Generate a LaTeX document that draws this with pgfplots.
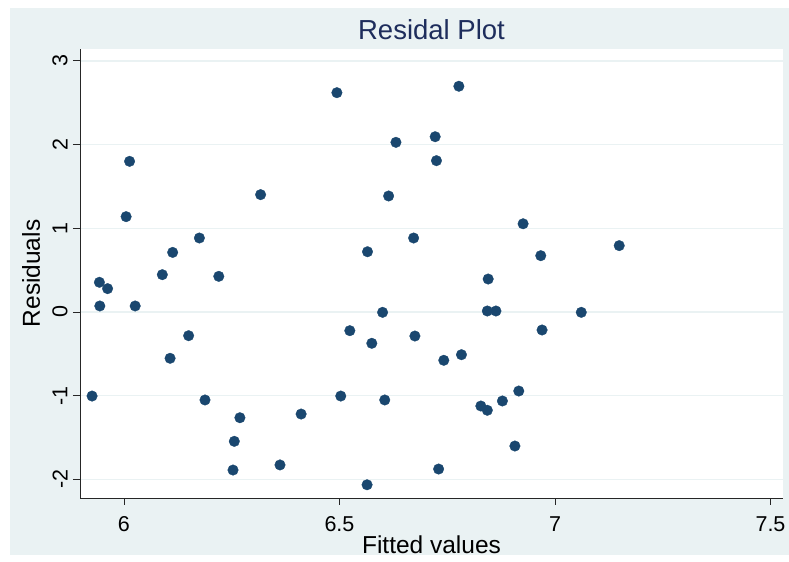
\documentclass[border=0pt]{standalone}
\usepackage{fontspec}
\setmainfont{Liberation Sans}
\usepackage{pgfplots}
\pgfplotsset{compat=1.18}
\definecolor{stbg}{HTML}{EAF2F3}
\definecolor{stnavy}{HTML}{1A476F}
\definecolor{sttitle}{HTML}{1E2D5C}

\begin{document}
\begin{tikzpicture}
\useasboundingbox (0bp,0bp) rectangle (789bp,562bp);
\fill[stbg] (10bp,7bp) rectangle (789bp,554bp);
\begin{axis}[
  at={(80bp,64bp)}, anchor=south west,
  width=703bp, height=449bp, scale only axis,
  xmin=5.898, xmax=7.529, ymin=-2.222, ymax=3.142,
  axis background/.style={fill=white},
  axis x line*=bottom, axis y line*=left,
  axis line style={-, line width=0.8bp, black!85},
  xtick={6,6.5,7,7.5}, ytick={-2,-1,0,1,2,3},
  tick align=outside, major tick length=7bp,
  tick style={line width=0.8bp, black!85},
  ymajorgrids, grid style={stbg, line width=1.5bp},
  /pgf/number format/assume math mode=true,
  tick label style={font=\fontsize{21.5bp}{24bp}\selectfont, text=black},
  xticklabel style={anchor=center, yshift=-19bp},
  yticklabel style={xshift=-13bp, rotate=90, anchor=center},
  title={Residal Plot},
  every axis title/.style={at={(axis description cs:0.5,1.0423)}, anchor=center, font=\fontsize{27.5bp}{30bp}\selectfont, text=sttitle},
  xlabel={Fitted values},
  every axis x label/.style={at={(axis description cs:0.5,-0.1047)}, anchor=center, font=\fontsize{24.5bp}{27bp}\selectfont},
  ylabel={Residuals},
  every axis y label/.style={at={(axis description cs:-0.0697,0.5)}, rotate=90, anchor=center, font=\fontsize{24.5bp}{27bp}\selectfont},
]
\addplot[only marks, mark=*, mark size=5.3bp, mark options={fill=stnavy, draw=stnavy, line width=0.3bp}] coordinates {
(5.926,-1.004) (5.943,0.355) (5.944,0.072) (5.962,0.279) (6.005,1.139)
(6.013,1.800) (6.026,0.072) (6.089,0.446) (6.107,-0.553) (6.113,0.712)
(6.150,-0.283) (6.175,0.884) (6.188,-1.051) (6.220,0.426) (6.253,-1.888)
(6.256,-1.545) (6.269,-1.263) (6.317,1.402) (6.362,-1.827) (6.411,-1.219)
(6.494,2.620) (6.503,-1.004) (6.524,-0.223) (6.565,0.720) (6.575,-0.374)
(6.600,-0.004) (6.605,-1.051) (6.564,-2.064) (6.614,1.386) (6.631,2.027)
(6.672,0.884) (6.675,-0.287) (6.722,2.094) (6.725,1.808) (6.730,-1.876)
(6.742,-0.577) (6.777,2.697) (6.783,-0.510) (6.828,-1.123) (6.843,-1.174)
(6.845,0.394) (6.843,0.012) (6.863,0.012) (6.878,-1.063) (6.907,-1.601)
(6.916,-0.944) (6.926,1.054) (6.967,0.673) (6.970,-0.215) (7.061,-0.004)
(7.149,0.793)
};
\end{axis}
\end{tikzpicture}
\end{document}
